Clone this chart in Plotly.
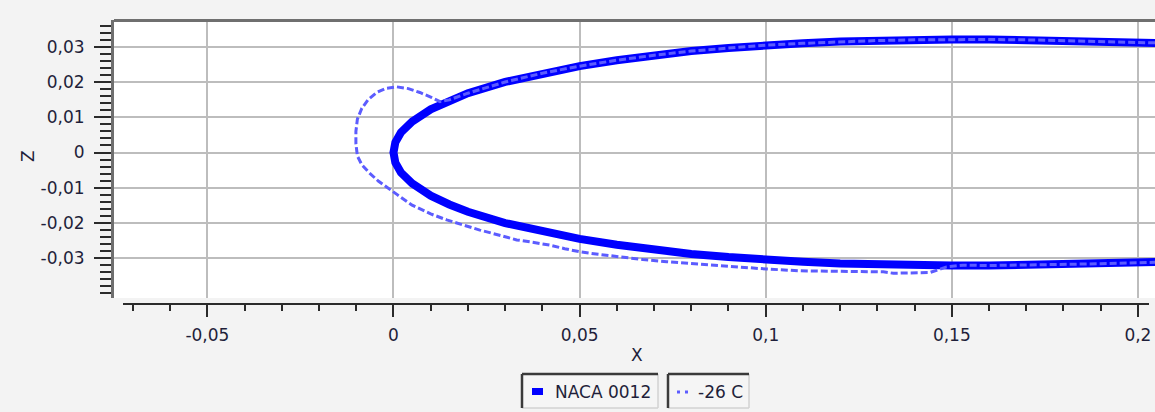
import plotly.graph_objects as go

# ---- data -------------------------------------------------------------
# NACA 0012 contour: chordwise stations and half-thickness (upper / lower)
foil_x = [0.0, 0.0005, 0.002, 0.005, 0.01, 0.015, 0.02, 0.03, 0.04, 0.05,
          0.06, 0.07, 0.08, 0.09, 0.10, 0.11, 0.12, 0.13, 0.14, 0.15,
          0.16, 0.17, 0.18, 0.19, 0.20, 0.21]
foil_z_upper = [0.0, 0.0029, 0.0057, 0.0088, 0.0123, 0.0148, 0.0169, 0.0201,
                0.0226, 0.0246, 0.0263, 0.0277, 0.0289, 0.0298, 0.0306, 0.0311,
                0.0316, 0.0319, 0.0321, 0.0322, 0.0322, 0.0321, 0.0319, 0.0317,
                0.0314, 0.0311]
foil_z_lower = [0.0, -0.0029, -0.0057, -0.0088, -0.0123, -0.0148, -0.0169, -0.0201,
                -0.0226, -0.0246, -0.0263, -0.0277, -0.0289, -0.0298, -0.0306, -0.0311,
                -0.0316, -0.0319, -0.0321, -0.0322, -0.0322, -0.0321, -0.0319, -0.0317,
                -0.0314, -0.0311]

# Ice accretion contour at -26 C (upper trailing side -> horn -> lower trailing side)
ice_x = [0.21, 0.20, 0.19, 0.18, 0.17, 0.16, 0.15, 0.14, 0.13, 0.12, 0.11, 0.10,
         0.09, 0.08, 0.07, 0.06, 0.05, 0.04, 0.03, 0.02, 0.015, 0.0125,
         0.0100, 0.0071, 0.0040, 0.0009, -0.0020, -0.0045, -0.0068, -0.0085,
         -0.0097, -0.0101, -0.0101, -0.0097, -0.0085, -0.0065, -0.0040, -0.0015,
         0.0010, 0.0050, 0.0100, 0.0143, 0.0190, 0.0232, 0.0290, 0.0331, 0.0370,
         0.0420, 0.0460, 0.0501, 0.0550, 0.0600, 0.0670, 0.0734, 0.0800, 0.0895,
         0.1003, 0.1092, 0.1200, 0.1316, 0.1343, 0.1441, 0.1486, 0.1530,
         0.16, 0.17, 0.18, 0.19, 0.20, 0.21]
ice_z = [0.0311, 0.0314, 0.0317, 0.0319, 0.0321, 0.0322, 0.0322, 0.0321, 0.0319,
         0.0316, 0.0311, 0.0306, 0.0298, 0.0289, 0.0277, 0.0263, 0.0246, 0.0226,
         0.0201, 0.0169, 0.0150, 0.0145,
         0.0158, 0.0171, 0.0182, 0.0187, 0.0183, 0.0171, 0.0151, 0.0126,
         0.0095, 0.0060, 0.0025, -0.0010, -0.0035, -0.0058, -0.0082, -0.0102,
         -0.0120, -0.0150, -0.0175, -0.0192, -0.0207, -0.0221, -0.0237, -0.0249,
         -0.0255, -0.0264, -0.0274, -0.0283, -0.0290, -0.0297, -0.0305, -0.0311,
         -0.0316, -0.0325, -0.0332, -0.0337, -0.0339, -0.0340, -0.0344, -0.0342,
         -0.0326, -0.0321, -0.0322, -0.0321, -0.0319, -0.0317, -0.0314, -0.0311]

series_names = ["NACA 0012", "-26 C"]

x_tick_vals = [-0.05, 0.0, 0.05, 0.10, 0.15, 0.20]
x_tick_text = ["-0,05", "0", "0,05", "0,1", "0,15", "0,2"]
z_tick_vals = [0.03, 0.02, 0.01, 0.0, -0.01, -0.02, -0.03]
z_tick_text = ["0,03", "0,02", "0,01", "0", "-0,01", "-0,02", "-0,03"]

# ---- layout geometry (pixels) -----------------------------------------
W, H = 1155, 412
L, R, T, B = 114, 0, 20, 108          # plotting paper: x 114..1155, y 20..304
PW, PH = W - L - R, H - T - B


def px(xp):
    return (xp - L) / PW


def py(yp):
    return (H - B - yp) / PH


BG = "#f3f3f3"
TXT = "#1f1f3a"
FONT = "DejaVu Sans"
FOIL = "#0000ff"
ICE = "#5c5cff"

# closed foil outline: upper surface aft->LE, then lower surface LE->aft
outline_x = foil_x[::-1] + foil_x[1:]
outline_z = foil_z_upper[::-1] + foil_z_lower[1:]

fig = go.Figure()
fig.add_trace(go.Scatter(x=outline_x, y=outline_z, mode="lines",
                         name=series_names[0],
                         line=dict(color=FOIL, width=8), showlegend=False))
fig.add_trace(go.Scatter(x=ice_x, y=ice_z, mode="lines", name=series_names[1],
                         line=dict(color=ICE, width=3, dash="7px,3px"),
                         showlegend=False))

shapes = [
    # sunken top border of the plot area
    dict(type="line", xref="paper", yref="paper", x0=0, x1=1, y0=py(20.5), y1=py(20.5),
         line=dict(color="#6f6f6f", width=3)),
    # detached horizontal axis line
    dict(type="line", xref="paper", yref="paper", x0=px(123), x1=px(1149),
         y0=0, y1=0, line=dict(color="#2b2b2b", width=2)),
]

annotations = [
    dict(text="X", x=px(637), y=py(355), xref="paper", yref="paper",
         xanchor="center", yanchor="middle",
         showarrow=False, font=dict(family=FONT, size=17, color=TXT)),
    dict(text="Z", x=px(28), y=py(156), xref="paper", yref="paper",
         xanchor="center", yanchor="middle",
         showarrow=False, textangle=-90, font=dict(family=FONT, size=17, color=TXT)),
]

# legend boxes drawn below the axis
legend_boxes = [(522, 658), (668, 749)]
for (bx0, bx1) in legend_boxes:
    by0, by1 = 374, 408
    shapes += [
        dict(type="rect", xref="paper", yref="paper", x0=px(bx0), x1=px(bx1),
             y0=py(by1), y1=py(by0), line=dict(width=0), fillcolor="#f5f5f5"),
        dict(type="line", xref="paper", yref="paper", x0=px(bx0), x1=px(bx1),
             y0=py(by1), y1=py(by1), line=dict(color="#d2d2d2", width=1.5)),
        dict(type="line", xref="paper", yref="paper", x0=px(bx1), x1=px(bx1),
             y0=py(by0), y1=py(by1), line=dict(color="#d2d2d2", width=1.5)),
        dict(type="line", xref="paper", yref="paper", x0=px(bx0), x1=px(bx1),
             y0=py(by0), y1=py(by0), line=dict(color="#3a3a3a", width=2.5)),
        dict(type="line", xref="paper", yref="paper", x0=px(bx0), x1=px(bx0),
             y0=py(by0), y1=py(by1), line=dict(color="#3a3a3a", width=2.5)),
    ]

# legend symbols
shapes.append(dict(type="rect", xref="paper", yref="paper", x0=px(532), x1=px(543),
                   y0=py(395), y1=py(388), line=dict(width=0), fillcolor=FOIL))
for dx in (677, 685):
    shapes.append(dict(type="rect", xref="paper", yref="paper", x0=px(dx), x1=px(dx + 3),
                       y0=py(393.5), y1=py(390.5), line=dict(width=0), fillcolor=ICE))

annotations += [
    dict(text=series_names[0], x=px(553), y=py(392), xref="paper", yref="paper",
         xanchor="left", yanchor="middle", showarrow=False,
         font=dict(family=FONT, size=17, color=TXT)),
    dict(text=series_names[1], x=px(696), y=py(392), xref="paper", yref="paper",
         xanchor="left", yanchor="middle", showarrow=False,
         font=dict(family=FONT, size=17, color=TXT)),
]

fig.update_layout(
    width=W, height=H, autosize=False,
    margin=dict(l=L, r=R, t=T, b=B, pad=0),
    paper_bgcolor=BG, plot_bgcolor="#ffffff",
    font=dict(family=FONT, size=17, color=TXT),
    shapes=shapes, annotations=annotations,
    xaxis=dict(
        range=[-0.07509, 0.20459], domain=[0, 1],
        anchor="free", position=0,
        tickmode="array", tickvals=x_tick_vals, ticktext=x_tick_text,
        ticks="outside", ticklen=12, tickwidth=2, tickcolor="#2b2b2b",
        ticklabelstandoff=4,
        minor=dict(tickmode="linear", tick0=0, dtick=0.01, ticks="outside",
                   ticklen=6, tickwidth=2, tickcolor="#2b2b2b", showgrid=False),
        showgrid=True, gridcolor="#bdbdbd", gridwidth=2,
        zeroline=False, showline=False,
        tickfont=dict(family=FONT, size=17, color=TXT),
    ),
    yaxis=dict(
        range=[-0.04145, 0.03775], domain=[6 / PH, 1],
        tickmode="array", tickvals=z_tick_vals, ticktext=z_tick_text,
        ticks="outside", ticklen=17, tickwidth=2, tickcolor="#2b2b2b",
        ticklabelstandoff=6,
        minor=dict(tickmode="linear", tick0=0, dtick=0.002, ticks="outside",
                   ticklen=11, tickwidth=2, tickcolor="#2b2b2b", showgrid=False),
        showgrid=True, gridcolor="#bdbdbd", gridwidth=2,
        zeroline=False, showline=True, linecolor="#6f6f6f", linewidth=3,
        tickfont=dict(family=FONT, size=17, color=TXT),
    ),
)

fig.write_html("out.html")
